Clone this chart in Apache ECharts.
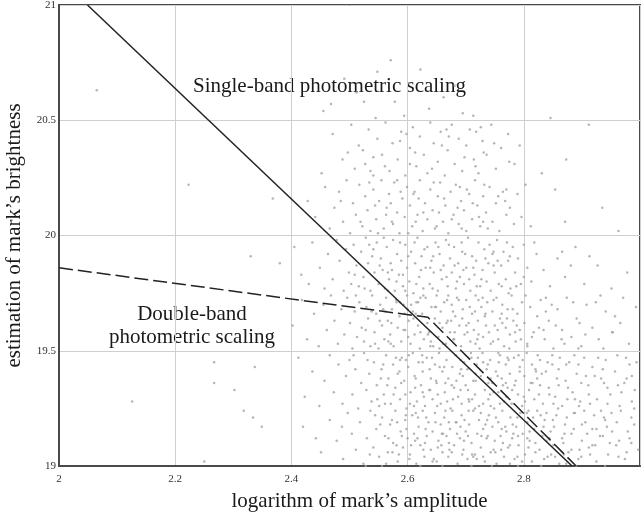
<!DOCTYPE html>
<html>
<head>
<meta charset="utf-8">
<script src="https://cdn.jsdelivr.net/npm/echarts@6/dist/echarts.min.js"></script>
<style>html,body{margin:0;padding:0;background:#fff}#c{width:644px;height:514px}</style>
</head>
<body>
<div id="c"></div>
<script>
// axis ranges / tick labels
const xRange = [2, 3];
const yRange = [19, 21];
const xTicks = [2, 2.2, 2.4, 2.6, 2.8];
const yTicks = [19, 19.5, 20, 20.5, 21];

// regression lines
const singleBand = [[2.049, 21], [2.883, 19]];
const doubleBand = [[2, 19.86], [2.635, 19.645], [2.89, 19]];

// star measurements, grouped by brightness band
const starsA = [[2.455,20.54],[2.525,20.58],[2.578,20.58],[2.512,20.62],[2.548,20.71],[2.603,20.66],[2.637,20.55],[2.571,20.76],[2.662,20.60],[2.491,20.68],[2.594,20.52],[2.695,20.53],[2.622,20.72],[2.545,20.51],[2.681,20.65],[2.468,20.57],[2.713,20.52],[2.065,20.63],[2.846,20.51]];
const starsB = [[2.452,20.27],[2.471,20.44],[2.488,20.33],[2.503,20.48],[2.509,20.29],[2.516,20.39],[2.527,20.31],[2.533,20.46],[2.541,20.26],[2.548,20.42],[2.556,20.35],[2.562,20.49],[2.569,20.28],[2.574,20.40],[2.583,20.33],[2.589,20.45],[2.596,20.26],[2.604,20.38],[2.609,20.47],[2.615,20.30],[2.621,20.43],[2.628,20.35],[2.634,20.27],[2.639,20.49],[2.645,20.40],[2.652,20.32],[2.657,20.45],[2.664,20.26],[2.669,20.37],[2.676,20.48],[2.681,20.31],[2.688,20.42],[2.694,20.28],[2.701,20.39],[2.707,20.46],[2.714,20.33],[2.722,20.27],[2.729,20.41],[2.736,20.35],[2.744,20.48],[2.752,20.29],[2.761,20.38],[2.773,20.44],[2.784,20.31],[2.793,20.39],[2.523,20.37],[2.561,20.30],[2.587,20.41],[2.613,20.36],[2.642,20.29],[2.671,20.43],[2.698,20.34],[2.726,20.47],[2.749,20.40],[2.536,20.28],[2.598,20.44],[2.659,20.39],[2.717,20.30],[2.497,20.36],[2.831,20.27],[2.912,20.48],[2.873,20.33],[2.775,20.32],[2.718,20.45]];
const starsC = [[2.368,20.16],[2.428,20.15],[2.441,20.08],[2.458,20.21],[2.466,20.03],[2.474,20.12],[2.482,20.19],[2.489,20.06],[2.495,20.24],[2.501,20.01],[2.506,20.14],[2.511,20.09],[2.517,20.22],[2.522,20.04],[2.527,20.17],[2.531,20.11],[2.536,20.02],[2.541,20.20],[2.546,20.07],[2.551,20.15],[2.555,20.24],[2.559,20.03],[2.564,20.12],[2.568,20.18],[2.573,20.06],[2.577,20.23],[2.582,20.10],[2.586,20.01],[2.591,20.16],[2.595,20.08],[2.599,20.21],[2.604,20.13],[2.608,20.04],[2.612,20.19],[2.617,20.09],[2.621,20.24],[2.626,20.02],[2.63,20.14],[2.634,20.07],[2.639,20.20],[2.643,20.11],[2.647,20.03],[2.652,20.17],[2.656,20.23],[2.661,20.06],[2.665,20.13],[2.67,20.01],[2.674,20.19],[2.679,20.09],[2.683,20.22],[2.688,20.05],[2.692,20.15],[2.697,20.11],[2.701,20.02],[2.706,20.18],[2.711,20.07],[2.716,20.24],[2.72,20.13],[2.725,20.04],[2.73,20.17],[2.735,20.10],[2.741,20.21],[2.746,20.06],[2.752,20.14],[2.758,20.02],[2.764,20.19],[2.77,20.09],[2.776,20.12],[2.783,20.05],[2.789,20.18],[2.796,20.08],[2.803,20.22],[2.544,20.13],[2.588,20.19],[2.627,20.10],[2.663,20.16],[2.702,20.20],[2.738,20.03],[2.519,20.06],[2.563,20.09],[2.601,20.01],[2.645,20.23],[2.686,20.12],[2.723,20.08],[2.756,20.17],[2.534,20.23],[2.571,20.14],[2.614,20.06],[2.654,20.10],[2.693,20.03],[2.732,20.22],[2.768,20.15],[2.812,20.04],[2.854,20.20],[2.871,20.06],[2.935,20.12],[2.963,20.02],[2.223,20.22],[2.485,20.15],[2.549,20.01],[2.582,20.24],[2.619,20.16],[2.676,20.07],[2.712,20.14]];
const starsD = [[2.33,19.91],[2.38,19.88],[2.43,19.79],[2.405,19.95],[2.417,19.83],[2.436,19.97],[2.449,19.86],[2.457,19.77],[2.463,19.92],[2.471,19.81],[2.478,19.98],[2.483,19.89],[2.49,19.76],[2.494,19.94],[2.499,19.84],[2.503,19.79],[2.507,19.96],[2.512,19.87],[2.516,19.78],[2.52,19.93],[2.524,19.82],[2.528,19.99],[2.532,19.88],[2.536,19.76],[2.539,19.91],[2.543,19.84],[2.547,19.97],[2.55,19.79],[2.554,19.90],[2.557,19.85],[2.561,19.77],[2.564,19.95],[2.568,19.81],[2.571,19.88],[2.575,19.98],[2.578,19.76],[2.582,19.92],[2.585,19.83],[2.589,19.89],[2.592,19.78],[2.596,19.96],[2.599,19.86],[2.603,19.80],[2.606,19.93],[2.61,19.75],[2.613,19.88],[2.617,19.99],[2.62,19.82],[2.624,19.91],[2.627,19.77],[2.631,19.86],[2.634,19.95],[2.638,19.79],[2.641,19.89],[2.645,19.84],[2.648,19.97],[2.652,19.76],[2.655,19.92],[2.659,19.81],[2.662,19.87],[2.666,19.98],[2.669,19.78],[2.673,19.90],[2.676,19.84],[2.68,19.95],[2.683,19.77],[2.687,19.88],[2.69,19.82],[2.694,19.93],[2.697,19.79],[2.701,19.86],[2.704,19.99],[2.708,19.76],[2.711,19.91],[2.715,19.83],[2.718,19.89],[2.722,19.97],[2.725,19.78],[2.729,19.85],[2.732,19.94],[2.736,19.80],[2.739,19.88],[2.743,19.76],[2.746,19.92],[2.75,19.84],[2.754,19.98],[2.757,19.79],[2.761,19.87],[2.765,19.93],[2.769,19.81],[2.773,19.89],[2.777,19.77],[2.781,19.95],[2.785,19.84],[2.79,19.90],[2.795,19.79],[2.8,19.96],[2.806,19.86],[2.813,19.80],[2.822,19.92],[2.834,19.85],[2.845,19.78],[2.858,19.90],[2.871,19.82],[2.889,19.95],[2.904,19.79],[2.927,19.87],[2.951,19.77],[2.978,19.84],[2.509,19.83],[2.526,19.77],[2.541,19.94],[2.559,19.99],[2.573,19.85],[2.587,19.97],[2.601,19.91],[2.615,19.79],[2.629,19.94],[2.643,19.77],[2.657,19.85],[2.671,19.96],[2.685,19.80],[2.699,19.92],[2.713,19.86],[2.727,19.81],[2.741,19.96],[2.755,19.89],[2.771,19.97],[2.787,19.78],[2.552,19.87],[2.581,19.80],[2.612,19.97],[2.639,19.86],[2.667,19.82],[2.693,19.97],[2.719,19.78],[2.748,19.87],[2.776,19.91],[2.534,19.96],[2.566,19.84],[2.596,19.76],[2.623,19.85],[2.653,19.95],[2.681,19.87],[2.706,19.81],[2.734,19.90],[2.762,19.78],[2.818,19.97],[2.866,19.93],[2.913,19.91]];
const starsE = [[2.402,19.61],[2.418,19.72],[2.427,19.55],[2.439,19.66],[2.447,19.52],[2.455,19.70],[2.461,19.59],[2.468,19.74],[2.474,19.63],[2.48,19.53],[2.486,19.68],[2.491,19.57],[2.496,19.73],[2.501,19.62],[2.505,19.51],[2.509,19.67],[2.513,19.56],[2.517,19.71],[2.521,19.60],[2.525,19.54],[2.529,19.69],[2.532,19.64],[2.536,19.52],[2.539,19.74],[2.543,19.58],[2.546,19.66],[2.55,19.51],[2.553,19.70],[2.556,19.61],[2.56,19.55],[2.563,19.73],[2.566,19.63],[2.57,19.57],[2.573,19.68],[2.576,19.52],[2.58,19.72],[2.583,19.60],[2.586,19.65],[2.589,19.54],[2.593,19.70],[2.596,19.59],[2.599,19.74],[2.602,19.63],[2.605,19.53],[2.609,19.67],[2.612,19.57],[2.615,19.71],[2.618,19.61],[2.621,19.51],[2.625,19.66],[2.628,19.55],[2.631,19.73],[2.634,19.62],[2.637,19.58],[2.641,19.69],[2.644,19.52],[2.647,19.64],[2.65,19.74],[2.653,19.56],[2.657,19.67],[2.66,19.60],[2.663,19.71],[2.666,19.53],[2.669,19.63],[2.673,19.58],[2.676,19.70],[2.679,19.55],[2.682,19.65],[2.685,19.73],[2.689,19.61],[2.692,19.52],[2.695,19.68],[2.698,19.57],[2.701,19.72],[2.705,19.62],[2.708,19.54],[2.711,19.66],[2.714,19.59],[2.717,19.74],[2.721,19.63],[2.724,19.51],[2.727,19.69],[2.73,19.56],[2.733,19.65],[2.737,19.71],[2.74,19.58],[2.743,19.53],[2.746,19.67],[2.75,19.61],[2.753,19.73],[2.756,19.55],[2.759,19.64],[2.763,19.70],[2.766,19.52],[2.769,19.60],[2.772,19.68],[2.776,19.57],[2.779,19.74],[2.782,19.63],[2.786,19.54],[2.789,19.66],[2.793,19.59],[2.797,19.71],[2.801,19.62],[2.806,19.53],[2.811,19.69],[2.817,19.58],[2.823,19.65],[2.829,19.72],[2.836,19.55],[2.843,19.63],[2.851,19.51],[2.858,19.68],[2.866,19.59],[2.874,19.73],[2.882,19.56],[2.891,19.64],[2.899,19.52],[2.908,19.70],[2.918,19.60],[2.929,19.55],[2.941,19.67],[2.953,19.58],[2.966,19.62],[2.981,19.53],[2.993,19.69],[2.511,19.74],[2.528,19.59],[2.544,19.53],[2.558,19.68],[2.572,19.62],[2.587,19.71],[2.601,19.56],[2.614,19.66],[2.627,19.74],[2.64,19.54],[2.655,19.62],[2.668,19.72],[2.681,19.58],[2.694,19.64],[2.707,19.69],[2.72,19.55],[2.735,19.61],[2.748,19.72],[2.762,19.66],[2.775,19.51],[2.788,19.61],[2.803,19.74],[2.826,19.60],[2.848,19.70],[2.87,19.53],[2.896,19.62],[2.924,19.71],[2.957,19.65],[2.538,19.67],[2.567,19.54],[2.595,19.66],[2.622,19.58],[2.649,19.69],[2.675,19.63],[2.703,19.58],[2.729,19.73],[2.755,19.59],[2.781,19.68],[2.814,19.56],[2.855,19.61],[2.885,19.71],[2.937,19.51],[2.971,19.73],[2.552,19.63],[2.606,19.70],[2.661,19.53],[2.716,19.67],[2.771,19.64],[2.838,19.67],[2.906,19.57]];
const starsF = [[2.126,19.28],[2.267,19.45],[2.267,19.36],[2.337,19.43],[2.302,19.33],[2.412,19.47],[2.423,19.30],[2.436,19.41],[2.448,19.26],[2.457,19.37],[2.466,19.48],[2.473,19.32],[2.481,19.44],[2.488,19.27],[2.494,19.39],[2.5,19.46],[2.505,19.31],[2.51,19.42],[2.515,19.25],[2.52,19.36],[2.525,19.49],[2.529,19.33],[2.534,19.40],[2.538,19.28],[2.542,19.45],[2.547,19.35],[2.551,19.26],[2.555,19.42],[2.559,19.31],[2.563,19.48],[2.567,19.38],[2.571,19.27],[2.575,19.44],[2.579,19.34],[2.583,19.40],[2.587,19.29],[2.59,19.47],[2.594,19.37],[2.598,19.25],[2.601,19.43],[2.605,19.32],[2.609,19.49],[2.612,19.39],[2.616,19.28],[2.619,19.45],[2.623,19.35],[2.626,19.41],[2.63,19.26],[2.633,19.47],[2.637,19.33],[2.64,19.38],[2.643,19.29],[2.647,19.44],[2.65,19.36],[2.654,19.49],[2.657,19.27],[2.66,19.41],[2.664,19.32],[2.667,19.46],[2.67,19.38],[2.674,19.25],[2.677,19.43],[2.68,19.34],[2.683,19.48],[2.687,19.30],[2.69,19.40],[2.693,19.27],[2.697,19.45],[2.7,19.35],[2.703,19.42],[2.706,19.28],[2.71,19.47],[2.713,19.37],[2.716,19.31],[2.719,19.44],[2.723,19.26],[2.726,19.39],[2.729,19.49],[2.733,19.33],[2.736,19.42],[2.739,19.29],[2.742,19.46],[2.746,19.36],[2.749,19.25],[2.752,19.41],[2.756,19.32],[2.759,19.48],[2.762,19.38],[2.766,19.28],[2.769,19.44],[2.772,19.34],[2.776,19.40],[2.779,19.27],[2.783,19.47],[2.786,19.37],[2.79,19.31],[2.793,19.43],[2.797,19.26],[2.801,19.39],[2.805,19.49],[2.809,19.33],[2.814,19.44],[2.818,19.29],[2.823,19.38],[2.828,19.46],[2.833,19.27],[2.838,19.41],[2.843,19.34],[2.849,19.48],[2.854,19.30],[2.86,19.42],[2.866,19.26],[2.872,19.37],[2.878,19.45],[2.884,19.32],[2.891,19.40],[2.897,19.28],[2.904,19.47],[2.911,19.35],[2.918,19.43],[2.926,19.29],[2.933,19.38],[2.941,19.46],[2.949,19.31],[2.957,19.41],[2.965,19.26],[2.973,19.36],[2.982,19.44],[2.991,19.33],[2.531,19.46],[2.548,19.29],[2.565,19.35],[2.58,19.47],[2.596,19.31],[2.611,19.26],[2.625,19.48],[2.638,19.42],[2.652,19.31],[2.665,19.36],[2.678,19.29],[2.691,19.46],[2.704,19.33],[2.717,19.40],[2.73,19.27],[2.743,19.38],[2.757,19.45],[2.77,19.30],[2.784,19.35],[2.798,19.46],[2.812,19.36],[2.826,19.31],[2.841,19.45],[2.857,19.38],[2.875,19.29],[2.894,19.44],[2.914,19.27],[2.936,19.42],[2.961,19.48],[2.986,19.39],[2.586,19.41],[2.613,19.34],[2.642,19.47],[2.668,19.28],[2.695,19.39],[2.721,19.47],[2.748,19.32],[2.774,19.46],[2.8,19.30],[2.831,19.40],[2.862,19.47],[2.899,19.36],[2.944,19.34],[2.976,19.47],[2.597,19.46],[2.628,19.30],[2.655,19.43],[2.684,19.37],[2.711,19.29],[2.738,19.44],[2.764,19.35],[2.791,19.48],[2.82,19.42],[2.851,19.27],[2.887,19.48],[2.922,19.39],[2.554,19.38],[2.507,19.48]];
const starsG = [[2.25,19.02],[2.318,19.24],[2.334,19.21],[2.349,19.17],[2.42,19.17],[2.451,19.06],[2.466,19.20],[2.478,19.11],[2.489,19.03],[2.497,19.23],[2.504,19.14],[2.511,19.07],[2.518,19.19],[2.524,19.01],[2.53,19.12],[2.536,19.24],[2.541,19.08],[2.546,19.16],[2.551,19.04],[2.556,19.21],[2.561,19.13],[2.566,19.06],[2.57,19.18],[2.575,19.10],[2.579,19.24],[2.583,19.02],[2.588,19.15],[2.592,19.08],[2.596,19.20],[2.6,19.12],[2.604,19.05],[2.608,19.22],[2.611,19.14],[2.615,19.01],[2.619,19.17],[2.622,19.09],[2.626,19.24],[2.629,19.04],[2.633,19.13],[2.636,19.19],[2.64,19.07],[2.643,19.15],[2.647,19.23],[2.65,19.02],[2.653,19.11],[2.657,19.18],[2.66,19.06],[2.663,19.21],[2.667,19.13],[2.67,19.04],[2.673,19.16],[2.677,19.24],[2.68,19.09],[2.683,19.19],[2.686,19.01],[2.69,19.12],[2.693,19.22],[2.696,19.07],[2.7,19.15],[2.703,19.03],[2.706,19.18],[2.71,19.10],[2.713,19.24],[2.716,19.05],[2.72,19.14],[2.723,19.20],[2.726,19.08],[2.73,19.16],[2.733,19.02],[2.736,19.12],[2.74,19.22],[2.743,19.06],[2.746,19.17],[2.75,19.11],[2.753,19.01],[2.756,19.19],[2.76,19.13],[2.763,19.24],[2.766,19.04],[2.77,19.15],[2.773,19.08],[2.777,19.21],[2.78,19.12],[2.784,19.03],[2.787,19.17],[2.791,19.09],[2.794,19.23],[2.798,19.14],[2.802,19.05],[2.806,19.19],[2.81,19.11],[2.814,19.02],[2.818,19.16],[2.823,19.24],[2.827,19.07],[2.832,19.13],[2.836,19.20],[2.841,19.04],[2.846,19.15],[2.851,19.09],[2.856,19.22],[2.861,19.01],[2.866,19.12],[2.871,19.18],[2.877,19.06],[2.882,19.14],[2.888,19.23],[2.894,19.03],[2.9,19.11],[2.906,19.19],[2.912,19.08],[2.918,19.16],[2.925,19.02],[2.931,19.13],[2.938,19.21],[2.945,19.05],[2.952,19.15],[2.959,19.09],[2.967,19.24],[2.974,19.03],[2.982,19.12],[2.99,19.18],[2.997,19.07],[2.544,19.22],[2.563,19.01],[2.581,19.09],[2.598,19.16],[2.614,19.23],[2.63,19.10],[2.645,19.03],[2.661,19.14],[2.676,19.06],[2.691,19.17],[2.705,19.24],[2.719,19.03],[2.734,19.18],[2.748,19.07],[2.762,19.16],[2.776,19.01],[2.79,19.13],[2.805,19.23],[2.82,19.10],[2.835,19.03],[2.852,19.17],[2.869,19.05],[2.886,19.16],[2.904,19.24],[2.923,19.09],[2.943,19.17],[2.963,19.04],[2.985,19.21],[2.573,19.20],[2.603,19.03],[2.632,19.21],[2.658,19.09],[2.685,19.14],[2.711,19.05],[2.737,19.20],[2.764,19.10],[2.789,19.04],[2.816,19.21],[2.844,19.12],[2.874,19.21],[2.909,19.14],[2.948,19.10],[2.979,19.15],[2.617,19.12],[2.648,19.19],[2.671,19.10],[2.698,19.20],[2.727,19.13],[2.752,19.21],[2.781,19.18],[2.808,19.08],[2.839,19.23],[2.868,19.10],[2.896,19.07],[2.933,19.24],[2.59,19.13],[2.535,19.05],[2.487,19.17],[2.442,19.12]];
const starsH = [[2.553,19.18],[2.558,19.44],[2.562,19.67],[2.567,19.12],[2.571,19.53],[2.576,19.31],[2.581,19.71],[2.585,19.05],[2.589,19.36],[2.593,19.59],[2.597,19.22],[2.602,19.48],[2.606,19.09],[2.61,19.64],[2.614,19.38],[2.618,19.21],[2.622,19.73],[2.626,19.45],[2.631,19.16],[2.635,19.57],[2.639,19.33],[2.643,19.02],[2.647,19.69],[2.651,19.26],[2.655,19.51],[2.659,19.14],[2.663,19.43],[2.667,19.62],[2.672,19.07],[2.676,19.35],[2.68,19.55],[2.684,19.19],[2.688,19.72],[2.692,19.42],[2.697,19.11],[2.701,19.61],[2.705,19.29],[2.709,19.49],[2.713,19.04],[2.717,19.37],[2.722,19.57],[2.726,19.23],[2.73,19.45],[2.734,19.66],[2.738,19.13],[2.742,19.31],[2.747,19.54],[2.751,19.06],[2.755,19.39],[2.759,19.27],[2.763,19.62],[2.768,19.17],[2.772,19.47],[2.776,19.09],[2.78,19.33],[2.785,19.58],[2.789,19.21],[2.793,19.41],[2.797,19.02],[2.802,19.28],[2.806,19.52],[2.81,19.15],[2.815,19.36],[2.82,19.06],[2.824,19.48],[2.829,19.22],[2.834,19.59],[2.839,19.11],[2.844,19.31],[2.849,19.44],[2.854,19.04],[2.859,19.25],[2.865,19.55],[2.87,19.14],[2.876,19.34],[2.882,19.07],[2.888,19.29],[2.894,19.51],[2.9,19.18],[2.907,19.39],[2.914,19.05],[2.921,19.22],[2.928,19.47],[2.936,19.13],[2.944,19.27],[2.952,19.58],[2.96,19.19],[2.968,19.32],[2.977,19.06],[2.986,19.28],[2.994,19.45],[2.561,19.27],[2.574,19.06],[2.587,19.46],[2.6,19.68],[2.613,19.11],[2.626,19.32],[2.639,19.52],[2.652,19.08],[2.665,19.24],[2.678,19.67],[2.691,19.33],[2.704,19.13],[2.717,19.53],[2.73,19.04],[2.743,19.26],[2.756,19.49],[2.769,19.36],[2.782,19.14],[2.795,19.55],[2.808,19.24],[2.821,19.41],[2.834,19.17],[2.847,19.05],[2.86,19.35],[2.873,19.44],[2.886,19.23],[2.899,19.04],[2.912,19.31],[2.925,19.16],[2.938,19.36],[2.951,19.23],[2.964,19.11],[2.977,19.38],[2.99,19.25],[2.582,19.19],[2.604,19.27],[2.627,19.07],[2.649,19.37],[2.671,19.19],[2.694,19.05],[2.716,19.25],[2.739,19.36],[2.761,19.07],[2.783,19.27],[2.806,19.12],[2.828,19.35],[2.85,19.20],[2.873,19.01],[2.895,19.26],[2.918,19.09],[2.94,19.20],[2.962,19.35],[2.985,19.10],[2.566,19.76],[2.592,19.83],[2.618,19.71],[2.644,19.91],[2.67,19.74],[2.696,19.85],[2.722,19.72],[2.748,19.93],[2.774,19.75],[2.8,19.82],[2.838,19.73],[2.881,19.87],[2.932,19.74],[2.575,20.05],[2.61,20.18],[2.65,20.04],[2.69,20.21],[2.73,20.06],[2.77,20.2],[2.541,20.34],[2.604,20.31],[2.667,20.46],[2.731,20.36]];
const starsEdge = [[2.528,19.0],[2.556,19.0],[2.622,19.0],[2.66,19.0],[2.71,19.0],[2.745,19.0],[2.79,19.0],[2.83,19.0],[2.89,19.0],[2.94,19.0]];

const texts = {
  xName: 'logarithm of mark\u2019s amplitude',
  yName: 'estimation of mark\u2019s brightness',
  single: 'Single-band photometric scaling',
  double: 'Double-band\nphotometric scaling'
};

const stars = [].concat(starsA, starsB, starsC, starsD, starsE, starsF, starsG, starsH, starsEdge);
const serif = '"Liberation Serif", "DejaVu Serif", serif';
const fmt = list => v => { const r = Math.round(v * 10) / 10; return list.indexOf(r) >= 0 ? String(r) : ''; };

const chart = echarts.init(document.getElementById('c'), null, {renderer: 'canvas'});
chart.setOption({
  animation: false,
  backgroundColor: '#fff',
  grid: {left: 59, right: 4, top: 5, bottom: 48, show: true, borderColor: '#4a4a4a', borderWidth: 2, containLabel: false, outerBoundsMode: 'none'},
  xAxis: {
    type: 'value', min: xRange[0], max: xRange[1], interval: 0.2,
    name: texts.xName, nameLocation: 'middle', nameGap: 25,
    nameTextStyle: {fontFamily: serif, fontSize: 21, color: '#1a1a1a', padding: [0, 0, 0, 20]},
    axisLine: {show: true, lineStyle: {color: '#4a4a4a', width: 2}},
    axisTick: {show: false},
    axisLabel: {fontFamily: serif, fontSize: 11, color: '#333', margin: 8, formatter: fmt(xTicks)},
    splitLine: {show: true, lineStyle: {color: '#cfcfcf', width: 1}}
  },
  yAxis: {
    type: 'value', min: yRange[0], max: yRange[1], interval: 0.5,
    name: texts.yName, nameLocation: 'middle', nameGap: 34,
    nameTextStyle: {fontFamily: serif, fontSize: 21, color: '#1a1a1a'},
    axisLine: {show: true, lineStyle: {color: '#4a4a4a', width: 2}},
    axisTick: {show: false},
    axisLabel: {fontFamily: serif, fontSize: 11, color: '#333', margin: 3, formatter: fmt(yTicks)},
    splitLine: {show: true, lineStyle: {color: '#cfcfcf', width: 1}}
  },
  series: [
    {type: 'scatter', data: stars, symbol: 'circle', symbolSize: 2.5, itemStyle: {color: '#a3a3a3'}, silent: true, z: 2},
    {type: 'line', data: singleBand, symbol: 'none', lineStyle: {color: '#222', width: 1.5}, z: 3},
    {type: 'line', data: doubleBand, symbol: 'none', lineStyle: {color: '#222', width: 1.5, type: [14, 5]}, z: 3}
  ],
  graphic: [
    {type: 'text', x: 193, y: 76, style: {text: texts.single, font: '21px ' + serif, fill: '#1a1a1a'}},
    {type: 'text', x: 192, y: 303, style: {text: texts.double, font: '21px ' + serif, fill: '#1a1a1a', align: 'center', verticalAlign: 'top', lineHeight: 23}}
  ]
});
</script>
</body>
</html>
